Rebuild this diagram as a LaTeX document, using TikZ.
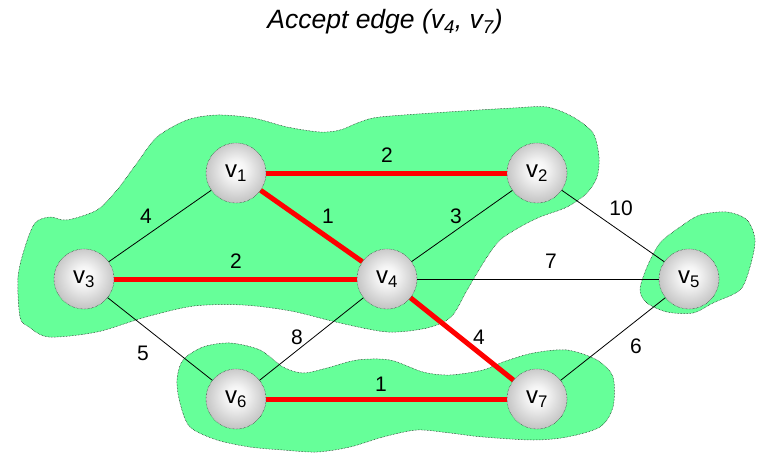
\documentclass[tikz,border=0pt]{standalone}
\usepackage{fontspec}
\setmainfont{Liberation Sans}
\pgfdeclareradialshading{ball}{\pgfpoint{0bp}{3bp}}{color(0bp)=(white); color(8bp)=(white!92!gray); color(30bp)=(gray!55); color(50bp)=(gray!85)}
\definecolor{blobgreen}{RGB}{102,255,153}
\tikzset{
  vertex/.style={circle, minimum size=60pt, inner sep=0pt, draw, densely dotted, shading=ball, font=\fontsize{24}{26}\selectfont},
  blob/.style={fill=blobgreen, draw, densely dotted, line width=0.5pt},
  edge/.style={line width=0.8pt},
  tree/.style={line width=5pt, red},
  weight/.style={font=\fontsize{21}{24}\selectfont}
}
\begin{document}
\begin{tikzpicture}[x=1pt,y=-1pt]
\useasboundingbox (0,0) rectangle (761,455);
% title
\node (title) at (385,22) {\fontsize{26.5}{30}\selectfont\itshape Accept edge (v\textsubscript{4}, v\textsubscript{7})};

% components
\draw[blob] plot[smooth cycle] coordinates {(20,317) (18,277) (25,247) (35,223) (50,217) (67,220) (97,210) (117,190) (137,163) (157,137) (187,120) (217,115) (253,118) (287,127) (320,132) (340,130) (360,122) (380,117) (447,112) (513,108) (547,107) (573,117) (593,133) (599,157) (597,177) (587,193) (567,207) (540,217) (520,227) (500,240) (487,257) (473,280) (466,292) (451,317) (427,328) (388,332) (340,323) (291,311) (243,305) (194,306) (146,317) (97,332) (49,337) (29,327)};
\draw[blob] plot[smooth cycle] coordinates {(640,290) (647,267) (660,243) (680,227) (700,215) (727,212) (747,220) (755,240) (750,267) (740,290) (713,303) (693,313) (667,312) (647,303)};
\draw[blob] plot[smooth cycle] coordinates {(177,380) (183,360) (203,347) (230,343) (260,350) (283,367) (303,373) (327,368) (357,360) (390,360) (423,372) (450,375) (483,370) (503,362) (533,353) (567,350) (597,360) (613,377) (613,407) (600,427) (567,437) (533,440) (483,437) (450,433) (417,430) (383,437) (350,447) (317,452) (283,450) (250,447) (217,440) (190,427) (180,403)};

% vertices
\node[vertex] (v1) at (236,173) {v\textsubscript{1}};
\node[vertex] (v2) at (537,173) {v\textsubscript{2}};
\node[vertex] (v3) at (84,279) {v\textsubscript{3}};
\node[vertex] (v4) at (387,279) {v\textsubscript{4}};
\node[vertex] (v5) at (689,279) {v\textsubscript{5}};
\node[vertex] (v6) at (236,399) {v\textsubscript{6}};
\node[vertex] (v7) at (537,399) {v\textsubscript{7}};

% edges
\draw[edge] (v3) -- (v1);
\draw[edge] (v4) -- (v2);
\draw[edge] (v2) -- (v5);
\draw[edge] (v4) -- (v5);
\draw[edge] (v3) -- (v6);
\draw[edge] (v4) -- (v6);
\draw[edge] (v7) -- (v5);
\draw[tree] (v1) -- (v2);
\draw[tree] (v1) -- (v4);
\draw[tree] (v3) -- (v4);
\draw[tree] (v4) -- (v7);
\draw[tree] (v6) -- (v7);

% weights
\node[weight] (w12) at (387,155) {2};
\node[weight] (w14) at (328,216) {1};
\node[weight] (w13) at (146,216) {4};
\node[weight] (w34) at (236,261) {2};
\node[weight] (w24) at (456,216) {3};
\node[weight] (w25) at (621,208) {10};
\node[weight] (w45) at (551,261) {7};
\node[weight] (w36) at (143,353) {5};
\node[weight] (w46) at (297,337) {8};
\node[weight] (w47) at (479,337) {4};
\node[weight] (w67) at (381,384) {1};
\node[weight] (w57) at (636,346) {6};
\end{tikzpicture}
\end{document}
